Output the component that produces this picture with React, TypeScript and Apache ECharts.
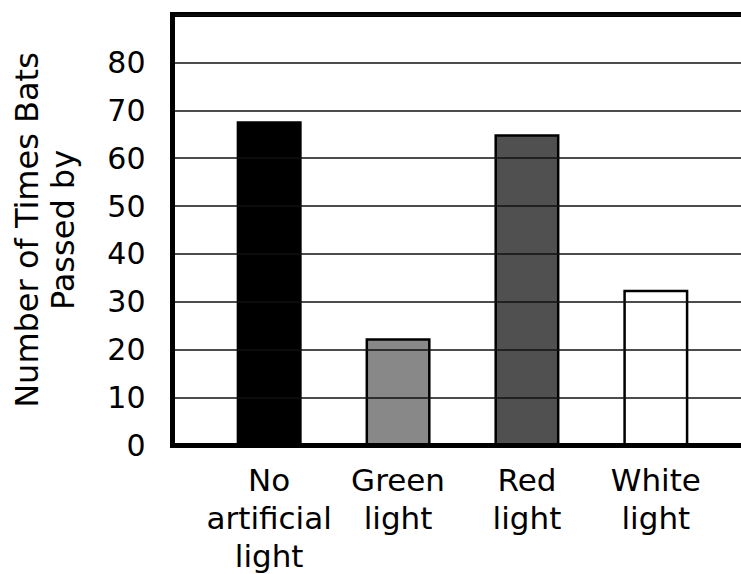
import React, { useEffect, useRef } from "react";
import * as echarts from "echarts";

const categories = ["No\nartificial\nlight", "Green\nlight", "Red\nlight", "White\nlight"];
const values = [67.7, 22.4, 65, 32.5];
const barColors = ["#000000", "#888888", "#505050", "#ffffff"];
const yTicks = [0, 10, 20, 30, 40, 50, 60, 70, 80];
const yTitle = "Number of Times Bats\nPassed by";

export default function App() {
  const ref = useRef<HTMLDivElement>(null);
  useEffect(() => {
    document.body.style.margin = "0";
    const chart = echarts.init(ref.current!, null, { renderer: "svg" });
    const font = "DejaVu Sans";
    chart.setOption({
      animation: false,
      backgroundColor: "#ffffff",
      grid: {
        left: 172.5,
        top: 14.5,
        width: 580,
        height: 431,
        show: true,
        borderColor: "#000",
        borderWidth: 5,
        containLabel: false,
        outerBoundsMode: "none",
      },
      xAxis: {
        type: "value",
        min: -0.75,
        max: 3.75,
        interval: 0.25,
        splitLine: { show: false },
        axisTick: { show: false },
        axisLine: { show: true, onZero: false, lineStyle: { color: "#000", width: 5 } },
        axisLabel: {
          fontFamily: font,
          fontSize: 31,
          lineHeight: 38,
          color: "#000",
          margin: 15,
          showMinLabel: true,
          showMaxLabel: true,
          formatter: (v: number) => {
            const i = Math.round(v);
            return Math.abs(v - i) < 1e-6 && i >= 0 && i < categories.length ? categories[i] : "";
          },
        },
        z: 10,
      },
      yAxis: {
        type: "value",
        min: 0,
        max: 90,
        interval: 10,
        name: yTitle,
        nameLocation: "middle",
        nameRotate: 90,
        nameGap: 92,
        nameTextStyle: { fontFamily: font, fontSize: 32, lineHeight: 36, color: "#000", align: "center" },
        axisLine: { show: true, onZero: false, lineStyle: { color: "#000", width: 5 } },
        axisTick: { show: false },
        splitLine: { show: true, lineStyle: { color: "#111", width: 1.5 } },
        axisLabel: {
          fontFamily: font,
          fontSize: 30,
          color: "#000",
          margin: 27,
          formatter: (v: number) => (yTicks.includes(v) ? String(v) : ""),
        },
        z: 10,
      },
      series: [
        {
          type: "bar",
          barWidth: 65,
          data: values.map((v, i) => ({
            value: [i, v],
            itemStyle: { color: barColors[i], borderColor: "#000", borderWidth: 2.5 },
          })),
        },
      ],
    });
    return () => chart.dispose();
  }, []);
  return <div ref={ref} style={{ width: 741, height: 574 }} />;
}
